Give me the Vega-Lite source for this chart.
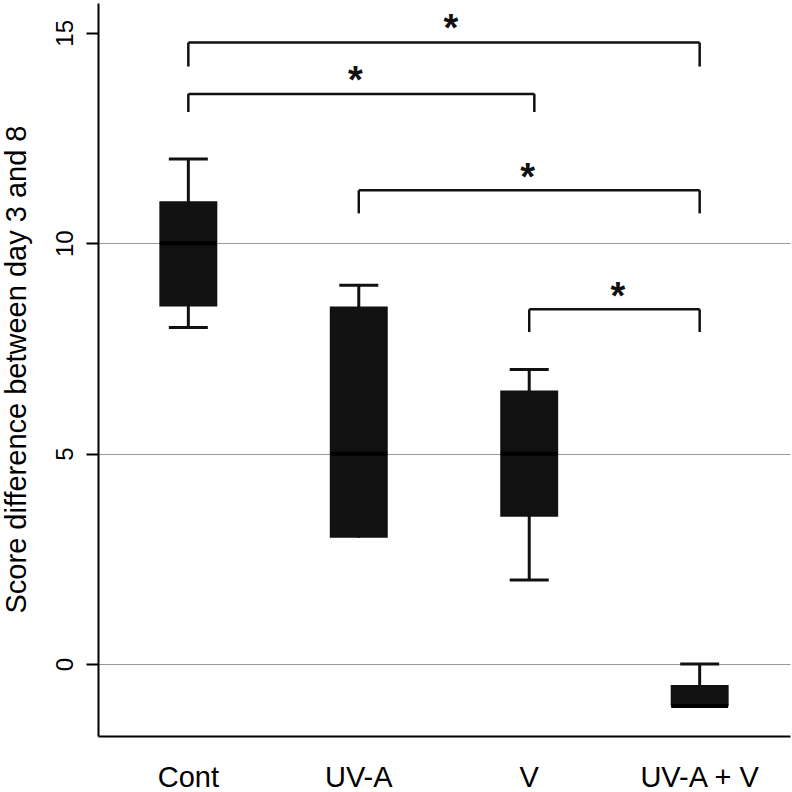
{
  "$schema": "https://vega.github.io/schema/vega-lite/v6.json",
  "width": 692,
  "height": 733,
  "autosize": "none",
  "padding": {"left": 98, "top": 3, "right": 2, "bottom": 56},
  "background": "white",
  "config": {"view": {"stroke": null}, "font": "Liberation Sans"},
  "datasets": {
    "boxes": [
      {"group": "Cont", "min": 8, "q1": 8.5, "median": 10, "q3": 11, "max": 12},
      {"group": "UV-A", "min": 3, "q1": 3, "median": 5, "q3": 8.5, "max": 9},
      {"group": "V", "min": 2, "q1": 3.5, "median": 5, "q3": 6.5, "max": 7},
      {"group": "UV-A + V", "min": -1, "q1": -1, "median": -1, "q3": -0.5, "max": 0}
    ],
    "brackets": [
      {"from": 1, "to": 4, "top": 14.77, "bottom": 14.2, "sx": 2.54, "sy": 14.8, "label": "*"},
      {"from": 1, "to": 3.03, "top": 13.55, "bottom": 13.12, "sx": 1.98, "sy": 13.57, "label": "*"},
      {"from": 2, "to": 4, "top": 11.26, "bottom": 10.71, "sx": 2.99, "sy": 11.27, "label": "*"},
      {"from": 3, "to": 4, "top": 8.43, "bottom": 7.89, "sx": 3.52, "sy": 8.44, "label": "*"}
    ]
  },
  "layer": [
    {
      "data": {"name": "boxes"},
      "encoding": {
        "x": {
          "field": "group",
          "type": "nominal",
          "sort": ["Cont", "UV-A", "V", "UV-A + V"],
          "scale": {"type": "band", "paddingInner": 0, "paddingOuter": 0.03},
          "axis": {
            "title": null,
            "ticks": false,
            "grid": false,
            "domainColor": "#000",
            "domainWidth": 2,
            "labelFontSize": 29,
            "labelAngle": 0,
            "labelColor": "#000",
            "labelBaseline": "alphabetic",
            "labelPadding": 50
          }
        }
      },
      "layer": [
        {
          "mark": {"type": "rule", "color": "#111", "strokeWidth": 3},
          "encoding": {
            "y": {
              "field": "min",
              "type": "quantitative",
              "scale": {"domain": [-1.71, 15.71], "nice": false, "zero": false},
              "axis": {
                "title": "Score difference between day 3 and 8",
                "values": [0, 5, 10, 15],
                "grid": true,
                "gridColor": "#999",
                "gridWidth": 1,
                "gridOpacity": {"condition": {"test": "datum.value === 15", "value": 0}, "value": 1},
                "domainColor": "#000",
                "domainWidth": 2,
                "tickColor": "#000",
                "tickWidth": 2,
                "tickSize": 12,
                "labelFontSize": 24,
                "labelAngle": -90,
                "labelAlign": "center",
                "labelBaseline": "alphabetic",
                "labelPadding": 14,
                "labelColor": "#000",
                "titleFontSize": 29,
                "titleFontWeight": "normal",
                "titleColor": "#000",
                "titleAngle": -90,
                "titleAlign": "center",
                "titleBaseline": "alphabetic",
                "titleX": -73,
                "titleY": 366
              }
            },
            "y2": {"field": "max"}
          }
        },
        {
          "mark": {"type": "tick", "color": "#111", "size": 39, "thickness": 3, "opacity": 1},
          "encoding": {"y": {"field": "max", "type": "quantitative"}}
        },
        {
          "transform": [{"filter": "datum.min < datum.q1"}],
          "mark": {"type": "tick", "color": "#111", "size": 39, "thickness": 3, "opacity": 1},
          "encoding": {"y": {"field": "min", "type": "quantitative"}}
        },
        {
          "mark": {"type": "bar", "color": "#111", "width": {"band": 0.34}},
          "encoding": {
            "y": {"field": "q1", "type": "quantitative"},
            "y2": {"field": "q3"}
          }
        },
        {
          "mark": {"type": "tick", "color": "#000", "size": 57, "thickness": 4, "opacity": 1},
          "encoding": {"y": {"field": "median", "type": "quantitative"}}
        }
      ]
    },
    {
      "data": {"name": "brackets"},
      "encoding": {
        "x": {
          "field": "from",
          "type": "quantitative",
          "scale": {"domain": [0.47, 4.53], "nice": false, "zero": false},
          "axis": null
        }
      },
      "layer": [
        {
          "mark": {"type": "rule", "color": "#111", "strokeWidth": 2.5},
          "encoding": {
            "x2": {"field": "to"},
            "y": {"field": "top", "type": "quantitative"}
          }
        },
        {
          "mark": {"type": "rule", "color": "#111", "strokeWidth": 2.5},
          "encoding": {
            "y": {"field": "top", "type": "quantitative"},
            "y2": {"field": "bottom"}
          }
        },
        {
          "mark": {"type": "rule", "color": "#111", "strokeWidth": 2.5},
          "encoding": {
            "x": {"field": "to", "type": "quantitative"},
            "y": {"field": "top", "type": "quantitative"},
            "y2": {"field": "bottom"}
          }
        },
        {
          "mark": {"type": "text", "fontSize": 38, "fontWeight": "bold", "color": "#111", "align": "center", "baseline": "alphabetic"},
          "encoding": {
            "x": {"field": "sx", "type": "quantitative"},
            "y": {"field": "sy", "type": "quantitative"},
            "text": {"field": "label"}
          }
        }
      ]
    }
  ],
  "resolve": {"scale": {"x": "independent"}}
}
